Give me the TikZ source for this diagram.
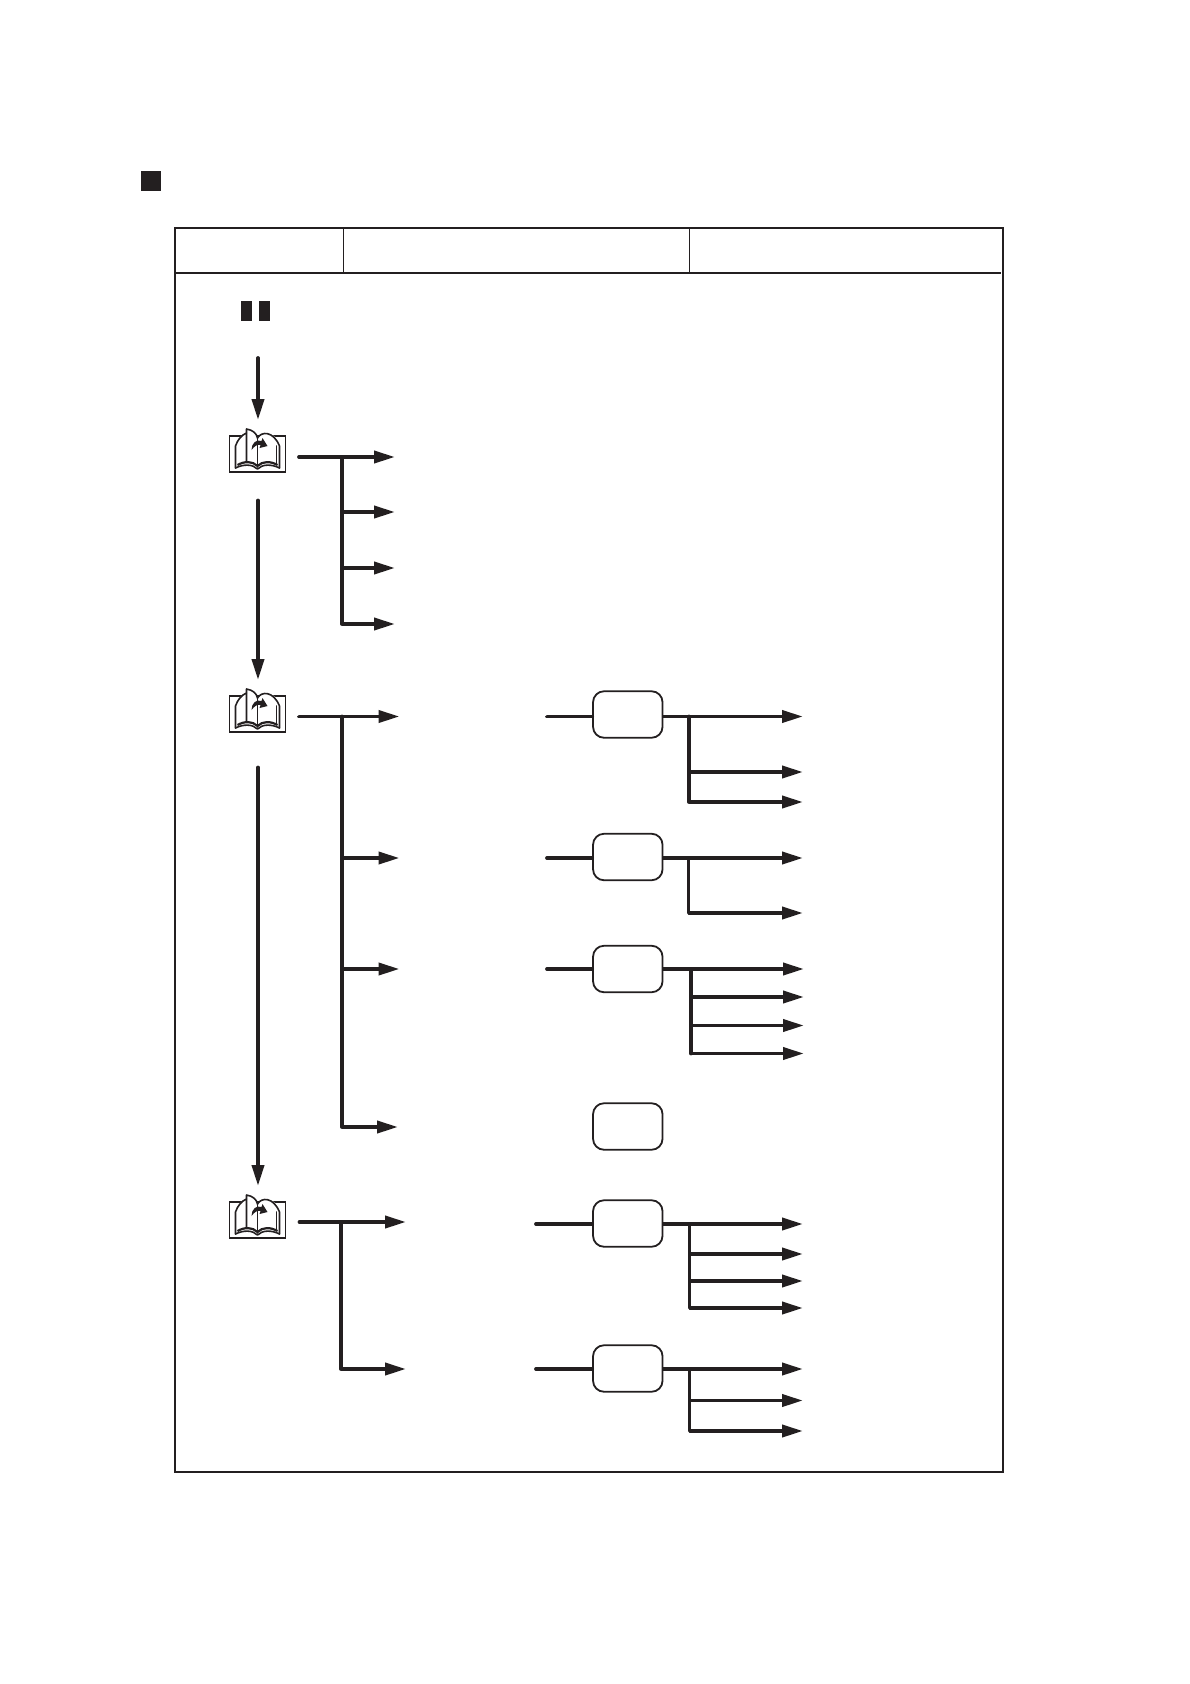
\documentclass[tikz,border=0pt]{standalone}
\usetikzlibrary{arrows.meta}
\definecolor{ink}{HTML}{231F20}
\tikzset{
  x=1pt,y=-1pt,
  flow/.style={draw=ink,line width=3.8pt,line cap=round,line join=round,-{Triangle[length=21pt,width=12pt]}},
  plain/.style={draw=ink,line width=3.8pt,line cap=round,line join=round},
  branch/.style={draw=ink,line width=3.8pt,line join=round,-{Triangle[length=21pt,width=12pt]}},
  stagebox/.style={draw=ink,line width=1.8pt,rounded corners=11pt,fill=white,minimum width=69.5pt,minimum height=46.5pt,inner sep=0pt,anchor=center},
  blackmark/.style={fill=ink,draw=none,minimum width=#1,inner sep=0pt,anchor=north west},
  bookline/.style={draw=ink,line width=1.6pt,line join=round,line cap=round,fill=none}
}
\newcommand{\bookicon}[3]{%
  \node[draw=ink,line width=1.3pt,fill=white,minimum width=56pt,minimum height=36pt,inner sep=0pt] (#3) at (#1,#2) {};
  \begin{scope}[shift={(#1,#2)}]
    \fill[white] (-23,15) -- (-23,-8) .. controls (-20,-15) and (-16,-19) .. (-12,-21) -- (-11,-26) .. controls (-5,-24) and (-1,-21) .. (0,-16) .. controls (4,-24) and (17,-24) .. (23,-8) -- (23,15) -- cycle;
    \draw[bookline] (-22,14) -- (-22,-8) .. controls (-20,-14) and (-16,-19) .. (-11,-21);
    \draw[bookline] (-11,-25) -- (-11,8) (-11,-25) .. controls (-5,-24) and (-1,-21) .. (0,-16);
    \draw[bookline] (0,-16) -- (0,13);
    \draw[bookline] (0,-16) .. controls (4,-23) and (16,-23) .. (22,-8) -- (22,14);
    \draw[bookline] (-22,14) .. controls (-14,10) and (-5,10) .. (0,15) .. controls (5,10) and (14,10) .. (22,14);
    \draw[draw=ink,line width=2.2pt] (-20,11) .. controls (-13,7) and (-5,7) .. (0,12) .. controls (5,7) and (13,7) .. (20,11);
    \draw[bookline] (19,-8) -- (19,10);
    \fill[ink] (-6,-4) .. controls (-6,-11) and (-1,-15) .. (4,-13) -- (5,-16) -- (10,-8) -- (2,-6) -- (3,-9) .. controls (0,-10) and (-3,-8) .. (-6,-4) -- cycle;
  \end{scope}%
}
\begin{document}
\begin{tikzpicture}
\useasboundingbox (0,0) rectangle (1190,1684);
\fill[white] (0,0) rectangle (1190,1684);

% heading mark and small marks
\node[blackmark=20pt,minimum height=20pt] (headmark) at (141,171) {};
\node[blackmark=11pt,minimum height=20pt] (marka) at (241,301) {};
\node[blackmark=11pt,minimum height=20pt] (markb) at (259,301) {};

% table
\draw[ink,line width=2pt] (175,228) rectangle (1003,1472);
\draw[ink,line width=2pt] (175,273) -- (1001,273);
\draw[ink,line width=1.1pt] (343.5,228) -- (343.5,273);
\draw[ink,line width=1.1pt] (689.5,228) -- (689.5,273);

% books
\bookicon{257.5}{454}{bookA}
\bookicon{257.5}{714}{bookB}
\bookicon{257.5}{1220}{bookC}

% main spine arrows
\coordinate (s1) at (258,358); \coordinate (e1) at (258,420);
\coordinate (s2) at (258,500.5); \coordinate (e2) at (258,680);
\coordinate (s3) at (258,767.5); \coordinate (e3) at (258,1186);
\draw[flow] (s1) -- (e1);
\draw[flow] (s2) -- (e2);
\draw[flow] (s3) -- (e3);

% group A
\coordinate (a0) at (299,457); \coordinate (aj) at (342,457);
\coordinate (a1) at (395,457); \coordinate (a2) at (395,512);
\coordinate (a3) at (395,568); \coordinate (a4) at (395,624);
\draw[flow] (a0) -- (a1);
\draw[plain] (aj) -- (aj |- a4);
\draw[branch] (aj |- a4) -- (a4);
\draw[branch] (aj |- a2) -- (a2);
\draw[branch] (aj |- a3) -- (a3);

% group B
\coordinate (b0) at (299,716.5); \coordinate (bj) at (342,716.5);
\coordinate (b1) at (399.5,716.5); \coordinate (b2) at (399.5,858);
\coordinate (b3) at (399.5,969); \coordinate (b4) at (398,1127);
\draw[flow] (b0) -- (b1);
\draw[plain] (bj) -- (bj |- b4);
\draw[branch] (bj |- b2) -- (b2);
\draw[branch] (bj |- b3) -- (b3);
\draw[branch] (bj |- b4) -- (b4);

% group C
\coordinate (c0) at (299.5,1222); \coordinate (cj) at (341,1222);
\coordinate (c1) at (406,1222); \coordinate (c2) at (406,1369);
\draw[flow] (c0) -- (c1);
\draw[plain] (cj) -- (cj |- c2);
\draw[branch] (cj |- c2) -- (c2);

% stage boxes
\node[stagebox] (p1) at (627.8,714.5) {};
\node[stagebox] (p2) at (627.8,857) {};
\node[stagebox] (p3) at (627.8,969) {};
\node[stagebox] (p4) at (627.8,1126.5) {};
\node[stagebox] (p5) at (627.8,1223.5) {};
\node[stagebox] (p6) at (627.8,1368.5) {};

% lead-ins
\coordinate (l1) at (547,716.5); \coordinate (l2) at (547,858);
\coordinate (l3) at (547,969); \coordinate (l5) at (536,1224);
\coordinate (l6) at (536,1369);
\draw[plain] (l1) -- (l1 -| p1.west);
\draw[plain] (l2) -- (l2 -| p2.west);
\draw[plain] (l3) -- (l3 -| p3.west);
\draw[plain] (l5) -- (l5 -| p5.west);
\draw[plain] (l6) -- (l6 -| p6.west);

% outputs 1
\coordinate (o1a) at (803,716.5); \coordinate (o1b) at (803,772); \coordinate (o1c) at (803,802);
\coordinate (j1) at (689,716.5);
\draw[branch] (l1 -| p1.east) -- (o1a);
\draw[plain] (j1) -- (j1 |- o1c);
\draw[branch] (j1 |- o1b) -- (o1b);
\draw[branch] (j1 |- o1c) -- (o1c);

% outputs 2
\coordinate (o2a) at (803,858); \coordinate (o2b) at (803,913);
\coordinate (j2) at (688.5,858);
\draw[branch] (l2 -| p2.east) -- (o2a);
\draw[plain] (j2) -- (j2 |- o2b);
\draw[branch] (j2 |- o2b) -- (o2b);

% outputs 3
\coordinate (o3a) at (804,969); \coordinate (o3b) at (804,997);
\coordinate (o3c) at (804,1025.5); \coordinate (o3d) at (804,1053.5);
\coordinate (j3) at (691,969);
\draw[branch] (l3 -| p3.east) -- (o3a);
\draw[plain] (j3) -- (j3 |- o3d);
\draw[branch] (j3 |- o3b) -- (o3b);
\draw[branch] (j3 |- o3c) -- (o3c);
\draw[branch] (j3 |- o3d) -- (o3d);

% outputs 5
\coordinate (o5a) at (803,1224); \coordinate (o5b) at (803,1254);
\coordinate (o5c) at (803,1281); \coordinate (o5d) at (803,1308);
\coordinate (j5) at (689.5,1224);
\draw[branch] (l5 -| p5.east) -- (o5a);
\draw[plain] (j5) -- (j5 |- o5d);
\draw[branch] (j5 |- o5b) -- (o5b);
\draw[branch] (j5 |- o5c) -- (o5c);
\draw[branch] (j5 |- o5d) -- (o5d);

% outputs 6
\coordinate (o6a) at (803,1369); \coordinate (o6b) at (803,1400.5); \coordinate (o6c) at (803,1431);
\coordinate (j6) at (689.5,1369);
\draw[branch] (l6 -| p6.east) -- (o6a);
\draw[plain] (j6) -- (j6 |- o6c);
\draw[branch] (j6 |- o6b) -- (o6b);
\draw[branch] (j6 |- o6c) -- (o6c);
\end{tikzpicture}
\end{document}
